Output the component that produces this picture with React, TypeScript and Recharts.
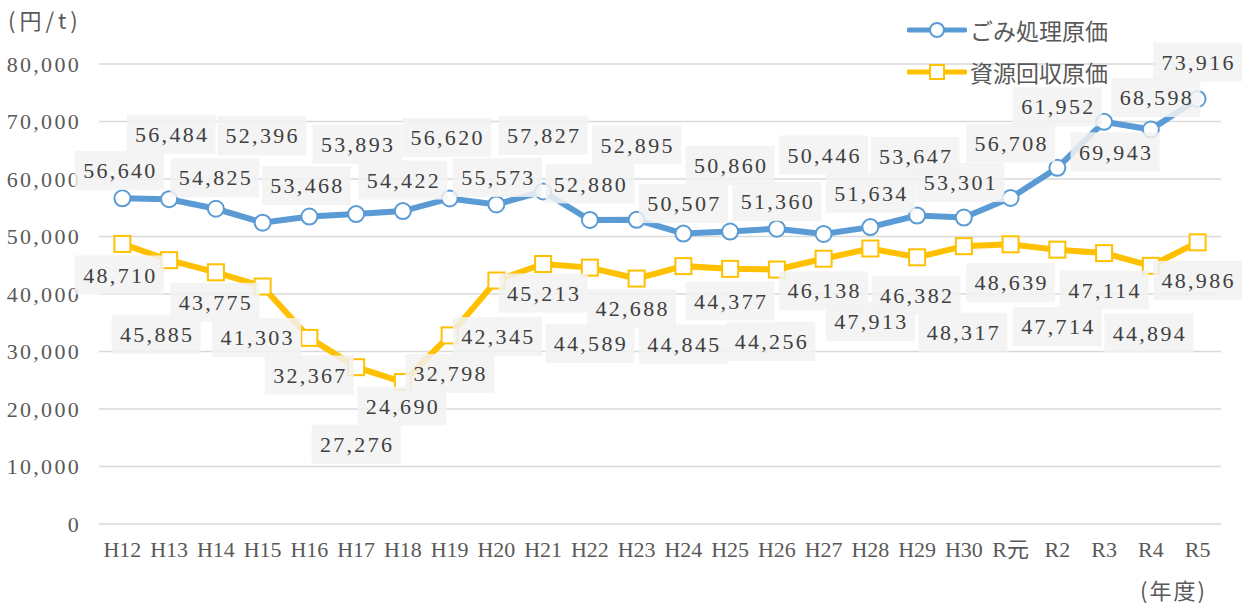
import { LineChart, Line, XAxis, YAxis, CartesianGrid, LabelList } from 'recharts';

const years = [
  'H12', 'H13', 'H14', 'H15', 'H16', 'H17', 'H18', 'H19', 'H20', 'H21', 'H22', 'H23',
  'H24', 'H25', 'H26', 'H27', 'H28', 'H29', 'H30', 'R元', 'R2', 'R3', 'R4', 'R5',
];
const gomiCost = [
  56640, 56484, 54825, 52396, 53468, 53893, 54422, 56620, 55573, 57827, 52880, 52895,
  50507, 50860, 51360, 50446, 51634, 53647, 53301, 56708, 61952, 69943, 68598, 73916,
];
const shigenCost = [
  48710, 45885, 43775, 41303, 32367, 27276, 24690, 32798, 42345, 45213, 44589, 42688,
  44845, 44377, 44256, 46138, 47913, 46382, 48317, 48639, 47714, 47114, 44894, 48986,
];
const yTicks = [0, 10000, 20000, 30000, 40000, 50000, 60000, 70000, 80000];
const seriesNames = ['ごみ処理原価', '資源回収原価'];

// where each data label box sits relative to its point (dx, dy), as in the original
const gomiLabelShift = [
  [-3, -28], [2, -65], [-1, -31], [-1, -87], [-3, -31], [1, -70], [0, -31], [-3, -61],
  [1, -27], [0, -56], [0, -36], [0, -75], [0, -30], [0, -66], [0, -27], [0, -79],
  [0, -34], [-2, -59], [-4, -35], [0, -55], [0, -61], [11, 30], [5, -32], [0, -37],
];
const shigenLabelShift = [
  [-3, 31], [-13, 74], [-1, 30], [-6, 51], [0, 37], [0, 77], [-1, 24], [0, 38],
  [1, 56], [0, 29], [0, 76], [-5, 30], [0, 78], [0, 32], [-6, 72], [0, 32],
  [0, 73], [-1, 38], [-1, 86], [0, 38], [0, 77], [0, 37], [-2, 67], [0, 38],
];

const data = years.map((year, i) => ({ year, gomi: gomiCost[i], shigen: shigenCost[i] }));

const BLUE = '#5b9bd5';
const GOLD = '#ffc000';
const numFont = 'Liberation Serif, serif';
const jpFont = 'Noto Sans CJK JP, sans-serif';

const fmt = (v: number) => v.toLocaleString('en-US');

function makeLabel(shift: number[][]) {
  return (props: any) => {
    const { index, value } = props;
    const px = props.x ?? props.viewBox?.x;
    const py = props.y ?? props.viewBox?.y;
    if (px == null || py == null) return null;
    const [dx, dy] = shift[index] ?? [0, -30];
    const cx = px + dx;
    const cy = py + dy;
    return (
      <g>
        <rect x={cx - 44.5} y={cy - 19.5} width={89} height={39} fill="#f2f2f2" fillOpacity={0.85} />
        <text
          x={cx + 1}
          y={cy}
          dy="0.35em"
          textAnchor="middle"
          fill="#404040"
          style={{ fontFamily: numFont, fontSize: 22, letterSpacing: 2.3 }}
        >
          {fmt(Number(value))}
        </text>
      </g>
    );
  };
}

const circleDot = (p: any) => (
  <circle key={`c${p.index}`} cx={p.cx} cy={p.cy} r={8} fill="#fff" stroke={BLUE} strokeWidth={2} />
);
const squareDot = (p: any) => (
  <rect key={`s${p.index}`} x={p.cx - 8} y={p.cy - 8} width={16} height={16} fill="#fff" stroke={GOLD} strokeWidth={2} />
);

function LegendRow({ name, color, square, top }: { name: string; color: string; square: boolean; top: number }) {
  return (
    <div style={{ position: 'absolute', left: 907, top, height: 32, display: 'flex', alignItems: 'center' }}>
      <svg width={60} height={20}>
        <line x1={2} y1={10} x2={58} y2={10} stroke={color} strokeWidth={5} strokeLinecap="round" />
        {square ? (
          <rect x={23} y={3} width={14} height={14} fill="#fff" stroke={color} strokeWidth={2} />
        ) : (
          <circle cx={30} cy={10} r={7} fill="#fff" stroke={color} strokeWidth={2} />
        )}
      </svg>
      <span style={{ marginLeft: 3, fontFamily: jpFont, fontSize: 23, color: '#595959', lineHeight: 1 }}>{name}</span>
    </div>
  );
}

export default function App() {
  const tickStyle = { fill: '#595959', fontSize: 22, fontFamily: numFont, letterSpacing: 2.3 };
  return (
    <div style={{ position: 'absolute', left: 0, top: 0, width: 1244, height: 603, background: '#fff' }}>
      <LineChart width={1244} height={603} data={data} margin={{ top: 64, right: 23, left: 0, bottom: 39 }}>
        <CartesianGrid vertical={false} stroke="#d9d9d9" strokeWidth={1.5} />
        <XAxis
          dataKey="year"
          axisLine={false}
          tickLine={false}
          tickSize={0}
          tickMargin={17}
          height={40}
          interval={0}
          padding={{ left: 23.4, right: 23.4 }}
          tick={{ fill: '#595959', fontSize: 22, fontFamily: 'Liberation Serif, Noto Sans CJK JP, serif' }}
        />
        <YAxis
          domain={[0, 80000]}
          ticks={yTicks}
          width={99}
          axisLine={false}
          tickLine={false}
          tickSize={0}
          tickMargin={18}
          tickFormatter={fmt}
          tick={tickStyle}
        />
        <Line
          type="linear"
          dataKey="gomi"
          name={seriesNames[0]}
          stroke={BLUE}
          strokeWidth={6}
          dot={circleDot}
          activeDot={false}
          isAnimationActive={false}
        >
          <LabelList dataKey="gomi" content={makeLabel(gomiLabelShift)} />
        </Line>
        <Line
          type="linear"
          dataKey="shigen"
          name={seriesNames[1]}
          stroke={GOLD}
          strokeWidth={6}
          dot={squareDot}
          activeDot={false}
          isAnimationActive={false}
        >
          <LabelList dataKey="shigen" content={makeLabel(shigenLabelShift)} />
        </Line>
      </LineChart>

      <div style={{ position: 'absolute', left: 8, top: 8, fontFamily: jpFont, fontSize: 22, color: '#595959', lineHeight: 1, letterSpacing: 4 }}>
        (円/t)
      </div>
      <div style={{ position: 'absolute', left: 1140, top: 578, fontFamily: jpFont, fontSize: 22, color: '#595959', lineHeight: 1, letterSpacing: 2 }}>
        (年度)
      </div>
      <LegendRow name={seriesNames[0]} color={BLUE} square={false} top={14} />
      <LegendRow name={seriesNames[1]} color={GOLD} square={true} top={56} />
    </div>
  );
}
